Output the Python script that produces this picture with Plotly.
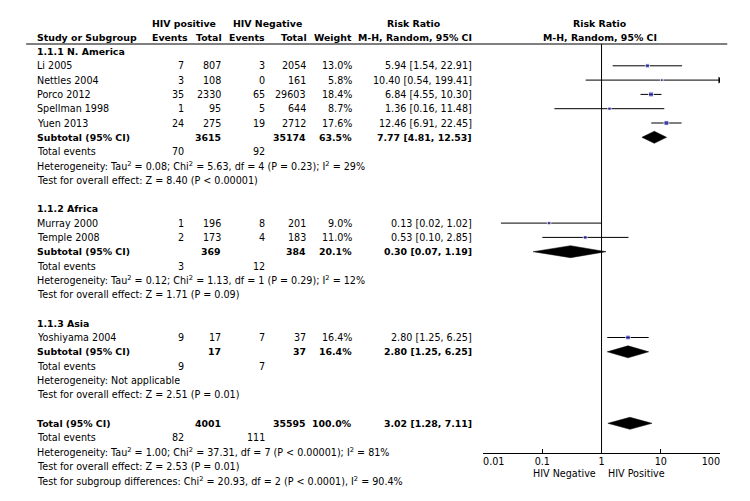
import plotly.graph_objects as go

# study level data
studies = ["Li 2005", "Nettles 2004", "Porco 2012", "Spellman 1998", "Yuen 2013",
           "Murray 2000", "Temple 2008", "Yoshiyama 2004"]
study_group = [0, 0, 0, 0, 0, 1, 1, 2]
ev_pos = [7, 3, 35, 1, 24, 1, 2, 9]
tot_pos = [807, 108, 2330, 95, 275, 196, 173, 17]
ev_neg = [3, 0, 65, 5, 19, 8, 4, 7]
tot_neg = [2054, 161, 29603, 644, 2712, 201, 183, 37]
weight = [13.0, 5.8, 18.4, 8.7, 17.6, 9.0, 11.0, 16.4]
rr = [5.94, 10.40, 6.84, 1.36, 12.46, 0.13, 0.53, 2.80]
rr_lo = [1.54, 0.54, 4.55, 0.16, 6.91, 0.02, 0.10, 1.25]
rr_hi = [22.91, 199.41, 10.30, 11.48, 22.45, 1.02, 2.85, 6.25]

# subgroups
groups = ["1.1.1 N. America", "1.1.2 Africa", "1.1.3 Asia"]
sub_tot_pos = [3615, 369, 17]
sub_tot_neg = [35174, 384, 37]
sub_weight = [63.5, 20.1, 16.4]
sub_rr = [7.77, 0.30, 2.80]
sub_lo = [4.81, 0.07, 1.25]
sub_hi = [12.53, 1.19, 6.25]
sub_ev_pos = [70, 3, 9]
sub_ev_neg = [92, 12, 7]
sub_het = ["Tau<sup>2</sup> = 0.08; Chi<sup>2</sup> = 5.63, df = 4 (P = 0.23); I<sup>2</sup> = 29%",
           "Tau<sup>2</sup> = 0.12; Chi<sup>2</sup> = 1.13, df = 1 (P = 0.29); I<sup>2</sup> = 12%",
           "Not applicable"]
sub_z = ["Z = 8.40 (P &lt; 0.00001)", "Z = 1.71 (P = 0.09)", "Z = 2.51 (P = 0.01)"]

# overall
tot_all_pos, tot_all_neg = 4001, 35595
tot_weight = 100.0
tot_rr, tot_lo, tot_hi = 3.02, 1.28, 7.11
tot_ev_pos, tot_ev_neg = 82, 111
tot_het = "Tau<sup>2</sup> = 1.00; Chi<sup>2</sup> = 37.31, df = 7 (P &lt; 0.00001); I<sup>2</sup> = 81%"
tot_z = "Z = 2.53 (P = 0.01)"
subgroup_diff = "Chi<sup>2</sup> = 20.93, df = 2 (P &lt; 0.0001), I<sup>2</sup> = 90.4%"

tick_vals = [0.01, 0.1, 1, 10, 100]
tick_text = ["\u00a0" * 7 + "0.01", "0.1", "1", "10", "100" + "\u00a0" * 6]

# the page body has an 8px margin, so the figure is drawn 8px smaller
W, H, OFF = 750, 501, 8
FW, FH = W - OFF, H - OFF
FONT = "DejaVu Sans"
FS = 9.6
FSB = 9.4
STEP = 14.3
Y0 = 51.5
AX_Y = 452.7
XMIN, XMAX = tick_vals[0], tick_vals[-1]

# column x positions in screen px
C_NAME, C_EVP, C_TOTP, C_EVN, C_TOTN, C_W, C_RR = 15, 173, 212, 258, 301, 350, 477


def px(x):
    return (x - OFF) / FW


annots = []


def txt(x, y, s, anchor="right", bold=False):
    size = FSB if bold else FS
    if bold:
        s = "<b>" + s + "</b>"
    annots.append(dict(x=px(x), y=y, xref="paper", yref="y", text=s, showarrow=False,
                       xanchor=anchor, yanchor="middle", borderpad=0,
                       font=dict(family=FONT, size=size, color="black")))


def fmt_rr(a, lo, hi):
    return f"{a:.2f} [{lo:.2f}, {hi:.2f}]"


fig = go.Figure()


def diamond(est, lo, hi, y, h=6):
    fig.add_trace(go.Scatter(x=[lo, est, hi, est, lo], y=[y, y - h, y, y + h, y],
                             mode="lines", fill="toself", fillcolor="black",
                             line=dict(color="black", width=0.5), hoverinfo="skip"))


# headers
txt(137, 23, "HIV positive", "left", True)
txt(222, 23, "HIV Negative", "left", True)
txt(414.5, 23, "Risk Ratio", "center", True)
txt(611, 23, "Risk Ratio", "center", True)
txt(C_NAME, 37, "Study or Subgroup", "left", True)
txt(177, 37, "Events", bold=True)
txt(213, 37, "Total", bold=True)
txt(258, 37, "Events", bold=True)
txt(302, 37, "Total", bold=True)
txt(350, 37, "Weight", bold=True)
txt(C_RR, 37, "M-H, Random, 95% CI", bold=True)
txt(611, 37, "M-H, Random, 95% CI", "center", True)

row = 0
sq_x, sq_y, sq_s = [], [], []
ci_x, ci_y = [], []
arrows_y = []


def ry(r):
    return Y0 + r * STEP


for g, gname in enumerate(groups):
    txt(C_NAME, ry(row), gname, "left", True)
    row += 1
    for i, s in enumerate(studies):
        if study_group[i] != g:
            continue
        y = ry(row)
        txt(C_NAME, y, s, "left")
        txt(C_EVP, y, str(ev_pos[i]))
        txt(C_TOTP, y, str(tot_pos[i]))
        txt(C_EVN, y, str(ev_neg[i]))
        txt(C_TOTN, y, str(tot_neg[i]))
        txt(C_W, y, f"{weight[i]:.1f}%")
        txt(C_RR, y, fmt_rr(rr[i], rr_lo[i], rr_hi[i]))
        ci_x += [max(rr_lo[i], XMIN), min(rr_hi[i], XMAX), None]
        ci_y += [y, y, None]
        if rr_hi[i] > XMAX:
            arrows_y.append(y)
        sq_x.append(rr[i]); sq_y.append(y); sq_s.append(1.15 * weight[i] ** 0.5)
        row += 1
    y = ry(row)
    txt(C_NAME, y, "Subtotal (95% CI)", "left", True)
    txt(C_TOTP, y, str(sub_tot_pos[g]), bold=True)
    txt(C_TOTN, y, str(sub_tot_neg[g]), bold=True)
    txt(C_W, y, f"{sub_weight[g]:.1f}%", bold=True)
    txt(C_RR, y, fmt_rr(sub_rr[g], sub_lo[g], sub_hi[g]), bold=True)
    diamond(sub_rr[g], sub_lo[g], sub_hi[g], y)
    row += 1
    y = ry(row)
    txt(C_NAME, y, "Total events", "left")
    txt(C_EVP, y, str(sub_ev_pos[g]))
    txt(C_EVN, y, str(sub_ev_neg[g]))
    row += 1
    txt(C_NAME, ry(row), "Heterogeneity: " + sub_het[g], "left")
    row += 1
    txt(C_NAME, ry(row), "Test for overall effect: " + sub_z[g], "left")
    row += 2

y = ry(row)
txt(C_NAME, y, "Total (95% CI)", "left", True)
txt(C_TOTP, y, str(tot_all_pos), bold=True)
txt(C_TOTN, y, str(tot_all_neg), bold=True)
txt(C_W, y, f"{tot_weight:.1f}%", bold=True)
txt(C_RR, y, fmt_rr(tot_rr, tot_lo, tot_hi), bold=True)
diamond(tot_rr, tot_lo, tot_hi, y)
row += 1
y = ry(row)
txt(C_NAME, y, "Total events", "left")
txt(C_EVP, y, str(tot_ev_pos))
txt(C_EVN, y, str(tot_ev_neg))
row += 1
txt(C_NAME, ry(row), "Heterogeneity: " + tot_het, "left")
row += 1
txt(C_NAME, ry(row), "Test for overall effect: " + tot_z, "left")
row += 1
txt(C_NAME, ry(row), "Test for subgroup differences: " + subgroup_diff, "left")

# favours labels
txt(607.7, 473, "HIV Negative")
txt(617.7, 473, "HIV Positive", "left")

fig.add_trace(go.Scatter(x=ci_x, y=ci_y, mode="lines",
                         line=dict(color="black", width=1), hoverinfo="skip"))
fig.add_trace(go.Scatter(x=sq_x, y=sq_y, mode="markers",
                         marker=dict(symbol="square", size=sq_s, color="#2020b0"),
                         hoverinfo="skip"))
fig.add_trace(go.Scatter(x=[XMAX] * len(arrows_y), y=arrows_y, mode="markers",
                         marker=dict(symbol="triangle-right", size=6, color="black"),
                         hoverinfo="skip"))

# header rule and line of no effect
fig.add_shape(type="line", xref="paper", yref="y", x0=px(5), x1=px(745), y0=44, y1=44,
              line=dict(color="black", width=1))
fig.add_shape(type="line", xref="x", yref="y", x0=1, x1=1, y0=44, y1=AX_Y,
              line=dict(color="black", width=1))

fig.update_layout(
    width=FW, height=FH,
    margin=dict(l=0, r=0, t=0, b=0),
    paper_bgcolor="white", plot_bgcolor="white",
    showlegend=False,
    annotations=annots,
    xaxis=dict(type="log", range=[-2, 2], domain=[px(487.3), px(737.3)],
               anchor="free", position=(H - AX_Y) / FH,
               showline=True, linecolor="black", linewidth=1,
               ticks="inside", ticklen=4, tickcolor="black",
               tickvals=tick_vals, ticktext=tick_text, ticklabeloverflow="allow",
               tickfont=dict(family=FONT, size=FS, color="black"),
               showgrid=False, zeroline=False),
    yaxis=dict(range=[H, OFF], domain=[0, 1], visible=False),
)

fig.write_html("out.html")
